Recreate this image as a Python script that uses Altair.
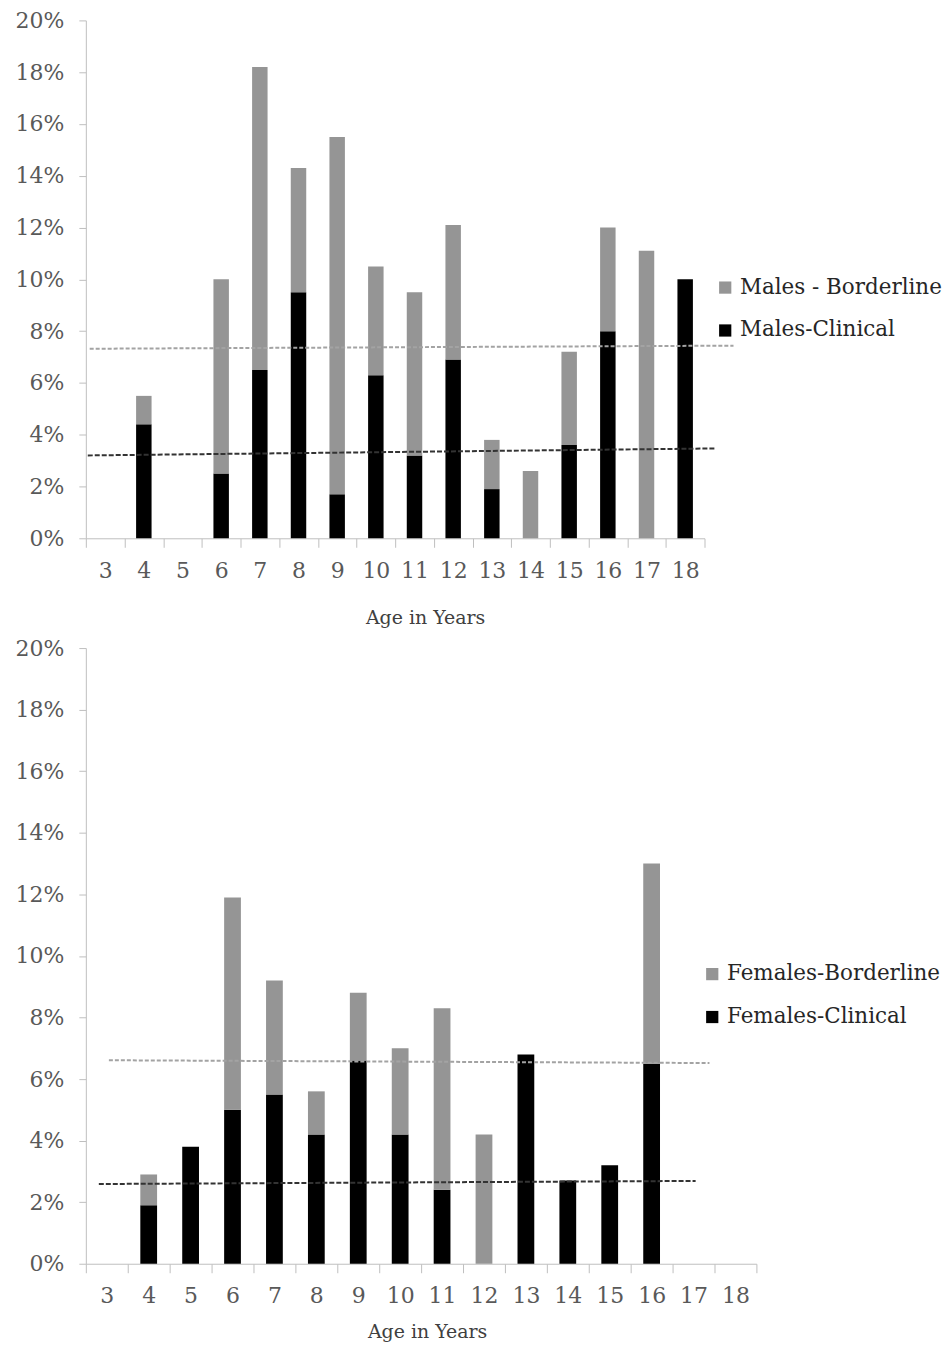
import altair as alt
import pandas as pd

ages = list(range(3, 19))

male_clinical     = [None, 4.4, None, 2.5, 6.5, 9.5, 1.7, 6.3, 3.2, 6.9, 1.9, 0.0, 3.6, 8.0, 0.0, 10.0]
male_borderline   = [None, 1.1, None, 7.5, 11.7, 4.8, 13.8, 4.2, 6.3, 5.2, 1.9, 2.6, 3.6, 4.0, 11.1, 0.0]
female_clinical   = [None, 1.9, 3.8, 5.0, 5.5, 4.2, 6.6, 4.2, 2.4, 0.0, 6.8, 2.7, 3.2, 6.5, None, None]
female_borderline = [None, 1.0, 0.0, 6.9, 3.7, 1.4, 2.2, 2.8, 5.9, 4.2, 0.0, 0.0, 0.0, 6.5, None, None]

# dashed reference (trend) lines: x in age units, y in percent
male_border_line_x = [2.6, 19.25]
male_border_line_y = [7.32, 7.44]
male_clin_line_x = [2.55, 18.76]
male_clin_line_y = [3.20, 3.47]
female_border_line_x = [3.05, 17.38]
female_border_line_y = [6.61, 6.52]
female_clin_line_x = [2.81, 17.05]
female_clin_line_y = [2.59, 2.69]

y_ticks = [0, 0.02, 0.04, 0.06, 0.08, 0.10, 0.12, 0.14, 0.16, 0.18, 0.20]

FONT = "DejaVu Serif"
GRAY = "#959595"
AXIS_COLOR = "#bfbfbf"


def bar_table(clin, bord, clin_name, bord_name):
    rows = []
    for a, c, b in zip(ages, clin, bord):
        if c is not None:
            rows.append({"age": a, "value": c / 100, "series": clin_name, "ord": 0})
        if b is not None:
            rows.append({"age": a, "value": b / 100, "series": bord_name, "ord": 1})
    return pd.DataFrame(rows)


def line_table(xs, ys):
    return pd.DataFrame({"x": xs, "y": [v / 100 for v in ys]})


def panel(clin, bord, clin_name, bord_name, bl_x, bl_y, cl_x, cl_y,
          w, h, legend_x, legend_y, title_x, title_pad):
    df = bar_table(clin, bord, clin_name, bord_name)
    bars = alt.Chart(df).mark_bar(width=alt.RelativeBandSize(0.4)).encode(
        x=alt.X("age:O", sort=ages,
                scale=alt.Scale(domain=ages, paddingInner=0, paddingOuter=0),
                axis=alt.Axis(title="Age in Years", labelAngle=0, tickBand="extent",
                              tickSize=9, labelPadding=13, titlePadding=title_pad,
                              titleX=title_x)),
        y=alt.Y("value:Q", stack="zero",
                scale=alt.Scale(domain=[0, 0.2], nice=False),
                axis=alt.Axis(title=None, format=".0%", values=y_ticks,
                              tickSize=7, labelPadding=15, grid=False)),
        color=alt.Color("series:N",
                        scale=alt.Scale(domain=[bord_name, clin_name], range=[GRAY, "#000000"]),
                        legend=alt.Legend(title=None, orient="none", legendX=legend_x,
                                          legendY=legend_y, symbolType="square",
                                          symbolSize=150, symbolStrokeWidth=0,
                                          labelFontSize=21.5, labelFont=FONT,
                                          labelColor="#262626", rowPadding=20,
                                          labelLimit=400, labelOffset=4)),
        order=alt.Order("ord:Q"),
    )
    xs = alt.Scale(domain=[2.5, 18.5], nice=False, zero=False)
    bl = alt.Chart(line_table(bl_x, bl_y)).mark_line(
        color="#a3a3a3", strokeWidth=2, strokeDash=[4, 2], clip=False
    ).encode(x=alt.X("x:Q", scale=xs, axis=None), y=alt.Y("y:Q"))
    cl = alt.Chart(line_table(cl_x, cl_y)).mark_line(
        color="#333333", strokeWidth=2, strokeDash=[5, 2], clip=False
    ).encode(x=alt.X("x:Q", scale=xs, axis=None), y=alt.Y("y:Q"))
    return alt.layer(bars, bl, cl).resolve_scale(x="independent").properties(width=w, height=h)


top = panel(male_clinical, male_borderline, "Males-Clinical", "Males - Borderline",
            male_border_line_x, male_border_line_y, male_clin_line_x, male_clin_line_y,
            620, 519, 630, 257, 340, 27)
bottom = panel(female_clinical, female_borderline, "Females-Clinical", "Females-Borderline",
               female_border_line_x, female_border_line_y, female_clin_line_x, female_clin_line_y,
               672, 617, 617, 316, 342, 16)

chart = alt.vconcat(top, bottom, spacing=10).resolve_scale(
    color="independent"
).configure(
    padding={"left": 7, "top": 0, "right": 0, "bottom": 0}
).configure_view(
    stroke=None
).configure_axis(
    domainColor=AXIS_COLOR, tickColor=AXIS_COLOR, domainWidth=1, tickWidth=1,
    labelFont=FONT, labelFontSize=22, labelColor="#595959",
    titleFont=FONT, titleFontSize=19, titleColor="#404040", titleFontWeight="normal",
)

chart.save("out.html", embed_options={"renderer": "svg", "actions": False})
